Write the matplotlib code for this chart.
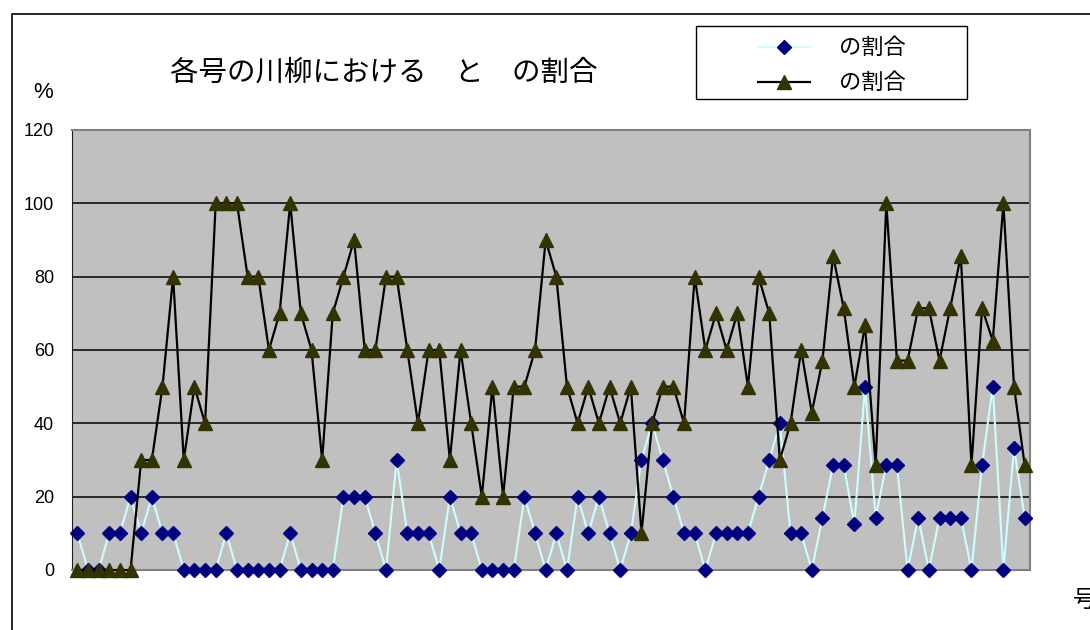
import matplotlib
matplotlib.use("Agg")
import matplotlib.pyplot as plt
from matplotlib.patches import Rectangle
from matplotlib.lines import Line2D

# values, one per issue
issue = list(range(90))

ratio_a = [10, 0, 0, 10, 10, 20, 10, 20, 10, 10, 0, 0, 0, 0, 10, 0, 0, 0, 0, 0, 10, 0, 0,
           0, 0, 20, 20, 20, 10, 0, 30, 10, 10, 10, 0, 20, 10, 10, 0, 0, 0, 0, 20, 10, 0,
           10, 0, 20, 10, 20, 10, 0, 10, 30, 40, 30, 20, 10, 10, 0, 10, 10, 10, 10, 20, 30, 40, 10,
           10, 0, 14.3, 28.6, 28.6, 12.5, 50, 14.3, 28.6, 28.6, 0, 14.3, 0, 14.3, 14.3, 14.3, 0,
           28.6, 50, 0, 33.3, 14.3]

ratio_b = [0, 0, 0, 0, 0, 0, 30, 30, 50, 80, 30, 50, 40, 100, 100, 100, 80, 80, 60, 70, 100, 70, 60,
           30, 70, 80, 90, 60, 60, 80, 80, 60, 40, 60, 60, 30, 60, 40, 20, 50, 20, 50, 50, 60, 90,
           80, 50, 40, 50, 40, 50, 40, 50, 10, 40, 50, 50, 40, 80, 60, 70, 60, 70, 50, 80, 70, 30, 40,
           60, 42.9, 57.1, 85.7, 71.4, 50, 66.7, 28.6, 100, 57.1, 57.1, 71.4, 71.4, 57.1, 71.4, 85.7,
           28.6, 71.4, 62.5, 100, 50, 28.6]

yticks = [0, 20, 40, 60, 80, 100, 120]
title = "各号の川柳における　と　の割合"
legend_labels = ["の割合", "の割合"]

plt.rcParams["font.family"] = ["Liberation Sans", "Noto Sans CJK JP", "DejaVu Sans"]
jp = ["Noto Sans CJK JP", "DejaVu Sans"]

W, H = 1090, 630


def fx(x):
    return x / W


def fy(y):
    return 1 - y / H


fig = plt.figure(figsize=(10.9, 6.3), dpi=100)
ax = fig.add_axes([fx(72), 60 / H, 958 / W, 440 / H])

# outer chart frame (cropped at right and bottom)
fig.patches.append(Rectangle((fx(12), -0.1), 1.2, 1.1 - 14 / H,
                             transform=fig.transFigure, fill=False,
                             edgecolor="black", linewidth=1.2))

ax.set_facecolor("#c0c0c0")
ax.set_xlim(-0.5, 89.5)
ax.set_ylim(0, 120)
ax.set_yticks(yticks)
ax.set_xticks([])
for y in yticks[1:-1]:
    ax.axhline(y, color="black", linewidth=1.1, zorder=1)

ax.tick_params(axis="y", length=0, labelsize=13, pad=13)
for side in ["top", "right", "bottom"]:
    ax.spines[side].set_color("#808080")
    ax.spines[side].set_linewidth(1.5)
ax.spines["left"].set_color("#202020")

style_a = dict(color="#ccffff", linewidth=1.5, marker="D", markersize=7,
               markerfacecolor="#000080", markeredgecolor="#000080")
style_b = dict(color="black", linewidth=1.6, marker="^", markersize=10,
               markerfacecolor="#333300", markeredgecolor="#333300")

ax.plot(issue, ratio_a, clip_on=False, zorder=3, **style_a)
ax.plot(issue, ratio_b, clip_on=False, zorder=4, **style_b)

fig.text(fx(384), fy(73), title, family=jp, fontsize=20.5,
         ha="center", va="center")
fig.text(fx(43), fy(92), "%", fontsize=16, ha="center", va="center")
fig.text(fx(1073), fy(600), "号", family=jp, fontsize=17,
         ha="left", va="center")

# legend box, drawn by hand to match the original spacing
fig.patches.append(Rectangle((fx(696), fy(99)), (967 - 696) / W, (99 - 26) / H,
                             transform=fig.transFigure, facecolor="white",
                             edgecolor="black", linewidth=1))
for row_y, style, label in [(47, style_a, legend_labels[0]),
                            (82, style_b, legend_labels[1])]:
    line_style = {k: v for k, v in style.items() if not k.startswith("marker")}
    fig.add_artist(Line2D([fx(758), fx(810)], [fy(row_y), fy(row_y)],
                          transform=fig.transFigure, **line_style))
    fig.add_artist(Line2D([fx(784)], [fy(row_y)], transform=fig.transFigure,
                          linestyle="none", **{k: v for k, v in style.items()
                                              if k.startswith("marker")}))
    fig.text(fx(839), fy(row_y), label, family=jp, fontsize=16,
             ha="left", va="center")

fig.savefig("out.png", dpi=100)
